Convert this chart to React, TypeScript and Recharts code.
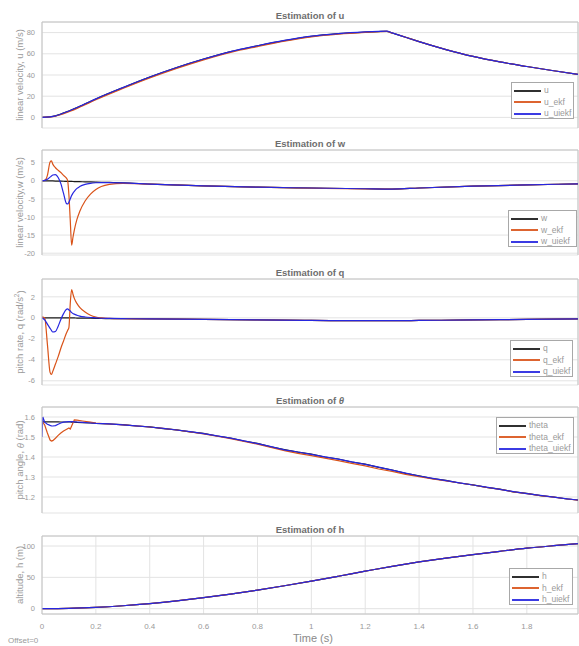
import React from "react";
import { LineChart, Line, XAxis, YAxis, CartesianGrid, ReferenceLine } from "recharts";

const W = 579;
const H = 646;
const PLOT_LEFT = 42;
const PLOT_RIGHT = 578;
const T_MAX = 1.99;
const X_TICKS = [0, 0.2, 0.4, 0.6, 0.8, 1, 1.2, 1.4, 1.6, 1.8];

const C_TRUE = "#1a1a1a";
const C_EKF = "#D95319";
const C_UIEKF = "#2626e0";

// ---- u panel ----
const tU = [0, 0.05, 0.1, 0.15, 0.2, 0.3, 0.4, 0.5, 0.6, 0.7, 0.8, 0.9, 1.0, 1.1, 1.2, 1.25, 1.28, 1.3, 1.35, 1.4, 1.5, 1.6, 1.7, 1.8, 1.9, 1.99];
const uTrue = [0, 1.5, 6, 11.5, 17.4, 28, 38, 47, 55, 62, 67.5, 72.5, 76.5, 79, 80.5, 81, 81.2, 79.6, 75.6, 71.5, 64, 57.5, 52.3, 48, 44, 40.5];
const uEkf = [0, 1.2, 5.3, 10.8, 16.6, 27.2, 37.2, 46.2, 54.3, 61.3, 66.8, 71.9, 76, 78.6, 80.2, 80.8, 81.1, 79.6, 75.6, 71.5, 64, 57.5, 52.3, 48, 44, 40.5];
const uUiekf = [0, 1.5, 6.1, 11.6, 17.5, 28.1, 38.1, 47.1, 55.1, 62.1, 67.6, 72.6, 76.6, 79.1, 80.6, 81.1, 81.3, 79.7, 75.6, 71.5, 64, 57.5, 52.3, 48, 44, 40.5];

// ---- w and q panels ----
const tFast = [0, 0.01, 0.02, 0.03, 0.035, 0.04, 0.05, 0.06, 0.07, 0.08, 0.09, 0.095, 0.1, 0.105, 0.11, 0.115, 0.12, 0.13, 0.14, 0.16, 0.18, 0.2, 0.22, 0.25, 0.3, 0.4, 0.6, 0.8, 1.0, 1.2, 1.3, 1.4, 1.6, 1.8, 1.99];
const wTrue = [0, -0.01, -0.02, -0.03, -0.04, -0.05, -0.07, -0.09, -0.11, -0.13, -0.15, -0.16, -0.17, -0.18, -0.19, -0.2, -0.21, -0.23, -0.25, -0.29, -0.33, -0.37, -0.41, -0.46, -0.55, -0.9, -1.4, -1.75, -2.0, -2.2, -2.28, -2.0, -1.5, -1.15, -0.85];
const wEkf = [0, 0.1, 1.5, 5.2, 5.5, 4.6, 3.6, 2.9, 2.3, 1.5, 0.8, 0.1, -4, -11, -17.8, -15.6, -13.6, -10.6, -8.5, -5.6, -3.7, -2.4, -1.6, -1.0, -0.7, -0.92, -1.42, -1.78, -2.03, -2.22, -2.29, -2.0, -1.5, -1.15, -0.85];
const wUiekf = [0, 0.1, 0.4, 1.0, 1.3, 1.6, 1.7, 0.9, -0.8, -3.5, -6.2, -6.4, -5.9, -5.0, -4.1, -3.4, -2.9, -2.1, -1.6, -1.0, -0.7, -0.55, -0.5, -0.5, -0.57, -0.9, -1.4, -1.76, -2.0, -2.2, -2.28, -2.0, -1.5, -1.15, -0.85];

const qTrue = [0, 0, 0, 0, 0, 0, 0, 0, 0, 0, 0, 0, -0.01, -0.01, -0.01, -0.01, -0.01, -0.02, -0.02, -0.03, -0.04, -0.05, -0.06, -0.07, -0.08, -0.1, -0.15, -0.2, -0.25, -0.27, -0.27, -0.25, -0.2, -0.15, -0.1];
const qEkf = [0.1, 0, -2.5, -5.2, -5.4, -5.1, -4.4, -3.7, -2.9, -2.2, -1.5, -1.2, -0.9, 1.4, 2.7, 2.25, 1.85, 1.35, 1.0, 0.55, 0.25, 0.08, 0.0, -0.05, -0.08, -0.1, -0.15, -0.2, -0.25, -0.27, -0.27, -0.25, -0.2, -0.15, -0.1];
const qUiekf = [0, -0.2, -0.6, -1.0, -1.2, -1.35, -1.3, -0.8, -0.15, 0.4, 0.8, 0.85, 0.75, 0.65, 0.5, 0.42, 0.35, 0.25, 0.17, 0.08, 0.03, 0.0, -0.04, -0.06, -0.08, -0.1, -0.15, -0.2, -0.25, -0.27, -0.27, -0.25, -0.2, -0.15, -0.1];

// ---- theta panel ----
const tTheta = [0, 0.003, 0.01, 0.02, 0.03, 0.035, 0.04, 0.05, 0.06, 0.07, 0.08, 0.09, 0.1, 0.105, 0.11, 0.12, 0.13, 0.15, 0.18, 0.2,
  0.25, 0.3, 0.35, 0.4, 0.45, 0.5, 0.55, 0.6, 0.65, 0.7, 0.75, 0.8, 0.85, 0.9, 0.95, 1.0, 1.05, 1.1, 1.15, 1.2, 1.25, 1.3, 1.35, 1.4, 1.45, 1.5, 1.55, 1.6, 1.65, 1.7, 1.75, 1.8, 1.85, 1.9, 1.95, 1.99];
const thetaTrue = [1.576, 1.576, 1.576, 1.576, 1.576, 1.576, 1.576, 1.576, 1.576, 1.575, 1.575, 1.575, 1.575, 1.575, 1.574, 1.574, 1.573, 1.572, 1.570, 1.568,
  1.565, 1.562, 1.555, 1.551, 1.542, 1.536, 1.526, 1.518, 1.505, 1.495, 1.480, 1.468, 1.451, 1.437, 1.424, 1.414, 1.400, 1.390, 1.375, 1.364, 1.348, 1.335, 1.318, 1.306, 1.292, 1.283, 1.270, 1.261, 1.248, 1.239, 1.226, 1.218, 1.207, 1.200, 1.190, 1.185];
const thetaEkf = [1.576, 1.574, 1.56, 1.52, 1.485, 1.48, 1.482, 1.494, 1.508, 1.52, 1.53, 1.538, 1.545, 1.54, 1.555, 1.585, 1.584, 1.58, 1.574, 1.569,
  1.565, 1.561, 1.556, 1.550, 1.543, 1.535, 1.526, 1.516, 1.504, 1.492, 1.478, 1.464, 1.448, 1.432, 1.418, 1.407, 1.394, 1.382, 1.368, 1.356, 1.340, 1.328, 1.313, 1.302, 1.290, 1.281, 1.270, 1.260, 1.248, 1.238, 1.226, 1.217, 1.207, 1.199, 1.190, 1.184];
const thetaUiekf = [1.5, 1.6, 1.574, 1.564, 1.558, 1.556, 1.555, 1.557, 1.564, 1.57, 1.574, 1.576, 1.577, 1.577, 1.577, 1.576, 1.575, 1.573, 1.570, 1.568,
  1.566, 1.561, 1.556, 1.550, 1.543, 1.535, 1.527, 1.517, 1.506, 1.494, 1.481, 1.467, 1.452, 1.436, 1.425, 1.413, 1.401, 1.389, 1.376, 1.363, 1.349, 1.334, 1.319, 1.305, 1.293, 1.282, 1.271, 1.260, 1.249, 1.238, 1.227, 1.217, 1.208, 1.199, 1.191, 1.185];

// ---- h panel ----
const tH = [0, 0.1, 0.2, 0.3, 0.4, 0.5, 0.6, 0.7, 0.8, 0.9, 1.0, 1.1, 1.2, 1.3, 1.4, 1.5, 1.6, 1.7, 1.8, 1.9, 1.99];
const hTrue = [0, 0.5, 2.1, 4.7, 8.1, 12.4, 17.5, 23.3, 29.7, 36.6, 44, 51.8, 59.8, 67.6, 74.6, 80.8, 86.4, 91.6, 96.5, 100.5, 103.8];
const hEkf = [0, 0.5, 2.1, 4.7, 8.1, 12.4, 17.5, 23.3, 29.7, 36.6, 44, 51.8, 59.8, 67.6, 74.6, 80.8, 86.4, 91.6, 96.5, 100.5, 103.8];
const hUiekf = [0, 0.5, 2.1, 4.7, 8.1, 12.4, 17.5, 23.3, 29.7, 36.6, 44, 51.8, 59.8, 67.6, 74.6, 80.8, 86.4, 91.6, 96.5, 100.5, 103.8];

const zip = (t: number[], v: number[]) => t.map((x, i) => ({ t: x, v: v[i] }));

type Series = { name: string; color: string; t: number[]; v: number[] };
type PanelDef = {
  top: number;
  h: number;
  domain: [number, number];
  ticks: number[];
  series: Series[];
  legend: { left: number; top: number; width: number };
  showX: boolean;
  curve: "monotone" | "linear";
};

const panels: PanelDef[] = [
  {
    top: 22, h: 106, domain: [-10, 90], ticks: [0, 20, 40, 60, 80], showX: false, curve: "monotone",
    legend: { left: 511, top: 82, width: 63 },
    series: [
      { name: "u", color: C_TRUE, t: tU, v: uTrue },
      { name: "u_ekf", color: C_EKF, t: tU, v: uEkf },
      { name: "u_uiekf", color: C_UIEKF, t: tU, v: uUiekf },
    ],
  },
  {
    top: 150, h: 105, domain: [-20.5, 8.5], ticks: [-20, -15, -10, -5, 0, 5], showX: false, curve: "monotone",
    legend: { left: 508, top: 210, width: 69 },
    series: [
      { name: "w", color: C_TRUE, t: tFast, v: wTrue },
      { name: "w_ekf", color: C_EKF, t: tFast, v: wEkf },
      { name: "w_uiekf", color: C_UIEKF, t: tFast, v: wUiekf },
    ],
  },
  {
    top: 279, h: 106, domain: [-6.4, 3.7], ticks: [-6, -4, -2, 0, 2], showX: false, curve: "monotone",
    legend: { left: 510, top: 340, width: 63 },
    series: [
      { name: "q", color: C_TRUE, t: tFast, v: qTrue },
      { name: "q_ekf", color: C_EKF, t: tFast, v: qEkf },
      { name: "q_uiekf", color: C_UIEKF, t: tFast, v: qUiekf },
    ],
  },
  {
    top: 407, h: 106, domain: [1.12, 1.65], ticks: [1.2, 1.3, 1.4, 1.5, 1.6], showX: false, curve: "linear",
    legend: { left: 496, top: 417, width: 78 },
    series: [
      { name: "theta", color: C_TRUE, t: tTheta, v: thetaTrue },
      { name: "theta_ekf", color: C_EKF, t: tTheta, v: thetaEkf },
      { name: "theta_uiekf", color: C_UIEKF, t: tTheta, v: thetaUiekf },
    ],
  },
  {
    top: 536, h: 78, domain: [-8.5, 116], ticks: [0, 50, 100], showX: true, curve: "monotone",
    legend: { left: 509, top: 568, width: 64 },
    series: [
      { name: "h", color: C_TRUE, t: tH, v: hTrue },
      { name: "h_ekf", color: C_EKF, t: tH, v: hEkf },
      { name: "h_uiekf", color: C_UIEKF, t: tH, v: hUiekf },
    ],
  },
];

const FONT = "'Liberation Sans', Arial, Helvetica, sans-serif";
const BOX = "#c4c4c4";
const GRID = "#e3e3e3";
const TXT = "#9a9a9a";
const PAD = 6;

function Panel({ p }: { p: PanelDef }) {
  const xH = p.showX ? 22 : 0;
  const chartH = p.h + 2 * PAD + xH;
  return (
    <div style={{ position: "absolute", left: 0, top: p.top - PAD }}>
      <LineChart width={W} height={chartH} margin={{ top: PAD, right: W - PLOT_RIGHT, bottom: PAD, left: 0 }}>
        <CartesianGrid stroke={GRID} />
        <XAxis
          type="number"
          dataKey="t"
          domain={[0, T_MAX]}
          ticks={X_TICKS}
          interval={0}
          height={xH}
          allowDataOverflow
          tickLine={false}
          tickSize={6}
          tickMargin={3}
          axisLine={{ stroke: BOX }}
          tick={p.showX ? { fill: TXT, fontSize: 8, fontFamily: FONT } : false}
        />
        <YAxis
          type="number"
          domain={p.domain}
          ticks={p.ticks}
          interval={0}
          width={PLOT_LEFT}
          allowDataOverflow
          tickLine={false}
          tickSize={5}
          tickMargin={2}
          axisLine={{ stroke: BOX }}
          tick={{ fill: TXT, fontSize: 7.5, fontFamily: FONT }}
        />
        <ReferenceLine y={p.domain[1]} stroke={BOX} />
        <ReferenceLine x={T_MAX} stroke={BOX} />
        {p.series.map((s) => (
          <Line
            key={s.name}
            data={zip(s.t, s.v)}
            dataKey="v"
            type={p.curve}
            stroke={s.color}
            strokeWidth={1.2}
            dot={false}
            activeDot={false}
            isAnimationActive={false}
          />
        ))}
      </LineChart>
      <div
        style={{
          position: "absolute",
          left: p.legend.left,
          top: p.legend.top - p.top + PAD,
          width: p.legend.width,
          height: 37,
          border: "1px solid #a8a8a8",
          background: "#fff",
          boxSizing: "border-box",
          fontFamily: FONT,
          fontSize: 8.5,
          color: TXT,
          padding: "2px 0 0 2px",
        }}
      >
        {p.series.map((s) => (
          <div key={s.name} style={{ display: "flex", alignItems: "center", height: 11.5 }}>
            <div style={{ width: 27, height: 2, background: s.color, marginRight: 3, opacity: 0.9 }} />
            <span style={{ lineHeight: "11px", whiteSpace: "nowrap" }}>{s.name}</span>
          </div>
        ))}
      </div>
    </div>
  );
}

const titles = ["u", "w", "q", "θ", "h"];

export default function App() {
  const cx = (PLOT_LEFT + PLOT_RIGHT) / 2;
  const lx = 19.5;
  return (
    <div style={{ position: "absolute", left: 0, top: 0, width: W, height: H, background: "#fff", overflow: "hidden" }}>
      {panels.map((p, i) => (
        <Panel key={i} p={p} />
      ))}
      <svg width={W} height={H} style={{ position: "absolute", left: 0, top: 0, pointerEvents: "none" }} fontFamily={FONT}>
        {panels.map((p, i) => (
          <text key={"t" + i} x={cx} y={p.top - 7} textAnchor="middle" dominantBaseline="central" fontSize={9.5} fontWeight="bold" fill="#6e6e6e">
            Estimation of {i === 3 ? <tspan fontStyle="italic">θ</tspan> : titles[i]}
          </text>
        ))}
        {panels.map((p, i) => {
          const cy = p.top + p.h / 2;
          return (
            <text key={"y" + i} x={lx} y={cy} transform={`rotate(-90 ${lx} ${cy})`} textAnchor="middle" dominantBaseline="central" fontSize={9.5} fill={TXT}>
              {i === 0 && "linear velocity, u (m/s)"}
              {i === 1 && "linear velocity,w (m/s)"}
              {i === 2 && (
                <>
                  pitch rate, q (rad/s<tspan fontSize={6.5} dy={-4}>2</tspan>
                  <tspan dy={4}>)</tspan>
                </>
              )}
              {i === 3 && (
                <>
                  pitch angle, <tspan fontStyle="italic">θ</tspan> (rad)
                </>
              )}
              {i === 4 && "altitude, h (m)"}
            </text>
          );
        })}
        <text x={313} y={638} textAnchor="middle" dominantBaseline="central" fontSize={11} fill="#8a8a8a">
          Time (s)
        </text>
        <text x={8} y={640} dominantBaseline="central" fontSize={8} fill={TXT}>
          Offset=0
        </text>
      </svg>
    </div>
  );
}
